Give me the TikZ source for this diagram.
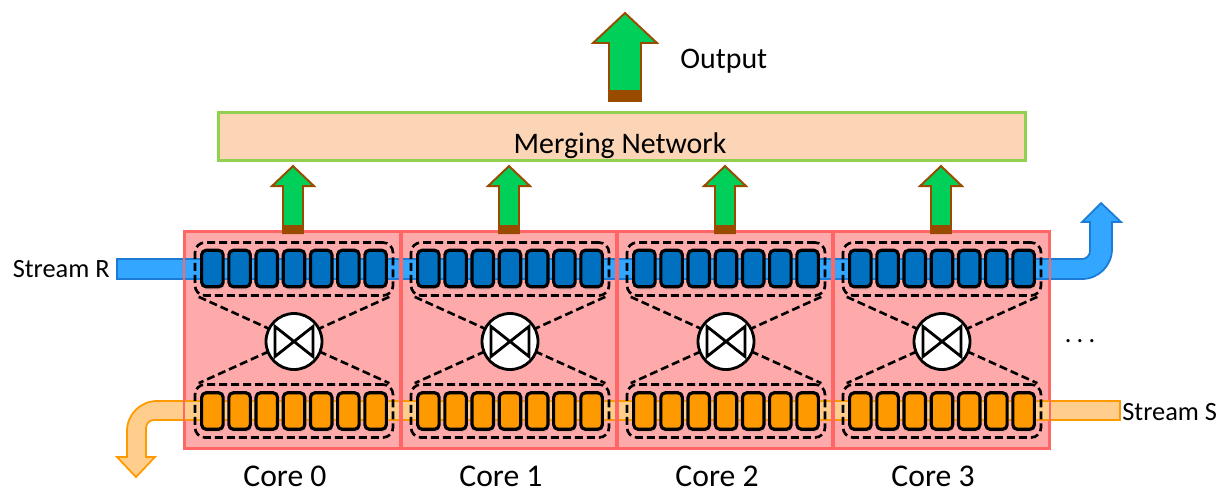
\documentclass[tikz,border=0pt]{standalone}
\usepackage{fontspec}
\setmainfont{Carlito}
\usetikzlibrary{positioning,shadows}

\definecolor{corefill}{RGB}{255,170,170}
\definecolor{coreline}{RGB}{255,102,102}
\definecolor{cellR}{RGB}{0,112,192}
\definecolor{cellS}{RGB}{255,153,0}
\definecolor{barR}{RGB}{51,166,255}
\definecolor{barRline}{RGB}{28,124,213}
\definecolor{barS}{RGB}{255,206,140}
\definecolor{mergefill}{RGB}{251,213,181}
\definecolor{mergeline}{RGB}{146,208,80}
\definecolor{outgreen}{RGB}{0,208,90}
\definecolor{outbrown}{RGB}{153,76,0}

\tikzset{
  core/.style={draw=coreline, fill=corefill, line width=1.1pt, minimum width=43.2mm, minimum height=43.2mm, inner sep=0pt},
  cell/.style={draw=black, line width=1.8pt, rounded corners=0.9mm, minimum width=4.3mm, minimum height=7.3mm, inner sep=0pt,
    drop shadow={shadow xshift=0.2mm, shadow yshift=-0.6mm, opacity=0.18}},
  group/.style={draw=black, line width=1.5pt, dash pattern=on 1.6mm off 0.8mm, rounded corners=2mm, minimum width=39.6mm, minimum height=10.6mm, inner sep=0pt},
  xline/.style={black, line width=1.5pt, dash pattern=on 1.6mm off 0.8mm},
  xbar/.style={circle, draw=black, fill=white, line width=1.6pt, minimum size=11.2mm, inner sep=0pt},
  merge/.style={draw=mergeline, fill=mergefill, line width=1.3pt, minimum width=161.4mm, minimum height=9.6mm, inner sep=0pt},
  garrow/.style={draw=outbrown, fill=outgreen, line width=1.1pt},
  lbl/.style={inner sep=0pt, font=\fontsize{15}{18}\selectfont},
  big/.style={inner sep=0pt, font=\fontsize{17}{20}\selectfont}
}

\begin{document}
\begin{tikzpicture}[x=0.2mm, y=-0.2mm]
    \useasboundingbox (0,0) rectangle (1223,495);

    \foreach \i in {0,...,3}
        \node[core] (core\i) at ({293+216*\i},340) {};

    \draw[draw=barRline, fill=barR, line width=1pt] (117,259) -- (1082,259) arc[start angle=90, end angle=0, radius=8] -- (1090,222) -- (1082,222) -- (1101,203) -- (1121,222) -- (1112,222) -- (1112,249) arc[start angle=0, end angle=90, radius=30] -- (117,279) -- cycle;
    \draw[draw=cellS, fill=barS, line width=1pt] (1120,401) -- (157,401) arc[start angle=270, end angle=180, radius=30] -- (127,457) -- (117,457) -- (136,477) -- (155,457) -- (146,457) -- (146,428) arc[start angle=180, end angle=270, radius=8] -- (1120,420) -- cycle;

    \foreach \i in {0,...,3} {
        \draw[coreline, line width=1.1pt] (core\i.north west) rectangle (core\i.south east);
        \node[group] (gr\i) at ({294+216*\i},269) {};
        \node[group] (gs\i) at ({294+216*\i},411) {};
        \draw[xline] ([xshift=1mm]gr\i.south west) -- ([xshift=-1mm]gs\i.north east);
        \draw[xline] ([xshift=-1mm]gr\i.south east) -- ([xshift=1mm]gs\i.north west);
        \node[xbar] (sw\i) at ({294+216*\i},341.5) {};
        \draw[line width=1.6pt, line join=miter] (sw\i.center) ++(-19,-15) -- ++(0,30) -- ++(38,-30) -- ++(0,30) -- cycle;
        \foreach \j in {0,...,6} {
            \node[cell, fill=cellR] (r\i\j) at ({294+216*\i+27.2*(\j-3)},268.5) {};
            \node[cell, fill=cellS] (s\i\j) at ({294+216*\i+27.2*(\j-3)},411) {};
        }
        \draw[garrow] (core\i.north) ++(-10,2) -- ++(0,-47) -- ++(-11,0) -- ++(21,-20) -- ++(21,20) -- ++(-11,0) -- ++(0,47) -- cycle;
        \fill[outbrown] (core\i.north) ++(-10,2) rectangle ++(20,-8);
        \node[lbl, font=\fontsize{18}{21}\selectfont, anchor=base] (clbl\i) at ({285+216*\i},486) {Core \i};
    }

    \node[merge] (merge) at (622,136.5) {};
    \node[big, anchor=base] (mlbl) at (620,153) {Merging Network};

    \coordinate (outbase) at (625,101);
    \draw[garrow] (outbase) ++(-16,0) -- ++(0,-58) -- ++(-16,0) -- ++(32,-30) -- ++(32,30) -- ++(-16,0) -- ++(0,58) -- cycle;
    \fill[outbrown] (outbase) ++(-16,0) rectangle ++(32,-11);
    \node[big, anchor=base west] (olbl) at (680,68) {Output};

    \node[lbl, anchor=base east] (rlbl) at (110,277) {Stream R};
    \node[lbl, anchor=base west] (slbl) at (1122,420) {Stream S};
    \node[lbl, anchor=base] (dots) at (1080,342) {.\hspace{3pt}.\hspace{3pt}.};
\end{tikzpicture}
\end{document}
